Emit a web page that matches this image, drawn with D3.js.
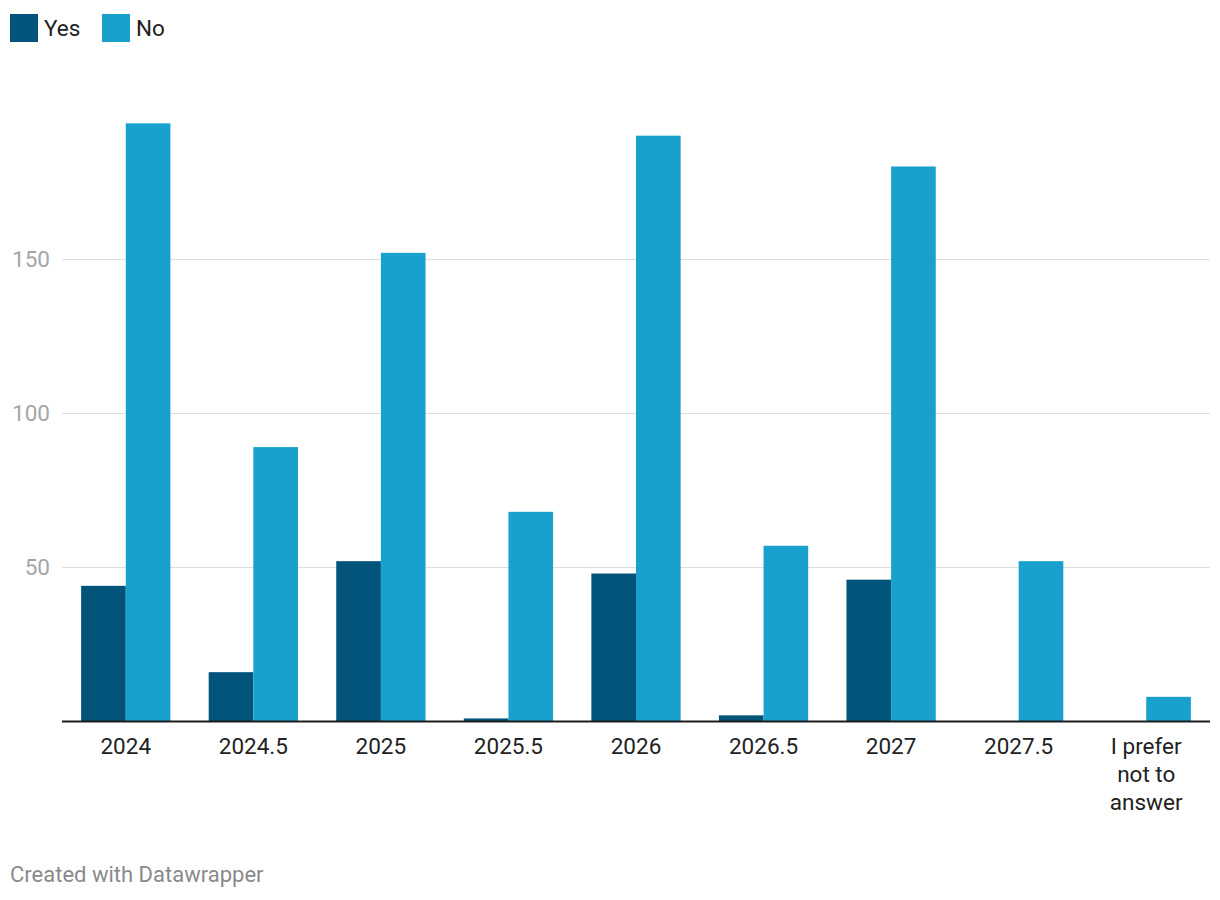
<!DOCTYPE html>
<html lang="en">
<head>
  <meta charset="UTF-8">
  <title>Yes / No by year</title>
  <script src="https://d3js.org/d3.v7.min.js"></script>
  <style>
    body {
      margin: 0;
      background: #fff;
      font-family: Roboto, Arial, sans-serif;
    }
  </style>
</head>
<body>
  <div id="chart"></div>

  <script>
    // values
    const categories = ["2024", "2024.5", "2025", "2025.5", "2026", "2026.5", "2027", "2027.5", "I prefer not to answer"];
    const yesValues = [44, 16, 52, 1, 48, 2, 46, 0, 0];
    const noValues = [194, 89, 152, 68, 190, 57, 180, 52, 8];
    const seriesNames = ["Yes", "No"];
    const yTicks = [50, 100, 150];

    const colors = { Yes: "#02547b", No: "#18a1cd" };
    const width = 1220, height = 900;
    const plotLeft = 62, plotRight = 1210, plotBottom = 721.5;

    const rows = categories.map((c, i) => ({ cat: c, Yes: yesValues[i], No: noValues[i] }));

    const svg = d3.select("#chart").append("svg")
      .attr("width", width)
      .attr("height", height);

    const x = d3.scaleBand()
      .domain(categories)
      .range([plotLeft, plotRight])
      .paddingInner(0.3)
      .paddingOuter(0.15);

    const xSub = d3.scaleBand()
      .domain(seriesNames)
      .range([0, x.bandwidth()]);

    const y = d3.scaleLinear()
      .domain([0, 150])
      .range([plotBottom, plotBottom - 462.5]);

    // gridlines + y labels
    const grid = svg.append("g");
    grid.selectAll("line")
      .data(yTicks)
      .enter()
      .append("line")
      .attr("x1", plotLeft)
      .attr("x2", plotRight)
      .attr("y1", d => Math.round(y(d)) + 0.5)
      .attr("y2", d => Math.round(y(d)) + 0.5)
      .attr("stroke", "#dedede")
      .attr("stroke-width", 1);
    grid.selectAll("text")
      .data(yTicks)
      .enter()
      .append("text")
      .attr("x", 50)
      .attr("y", d => y(d))
      .attr("dy", "0.35em")
      .attr("text-anchor", "end")
      .style("font-size", "22.5px")
      .style("fill", "#a6a6a6")
      .text(d => d);

    // bars
    const groups = svg.append("g").selectAll("g")
      .data(rows)
      .enter()
      .append("g")
      .attr("transform", d => `translate(${x(d.cat)},0)`);

    groups.selectAll("rect")
      .data(d => seriesNames.map(k => ({ key: k, value: d[k] })))
      .enter()
      .append("rect")
      .attr("x", d => xSub(d.key))
      .attr("width", xSub.bandwidth())
      .attr("y", d => y(d.value))
      .attr("height", d => y(0) - y(d.value))
      .attr("fill", d => colors[d.key]);

    // baseline
    svg.append("line")
      .attr("x1", plotLeft)
      .attr("x2", plotRight)
      .attr("y1", plotBottom)
      .attr("y2", plotBottom)
      .attr("stroke", "#1d1d1d")
      .attr("stroke-width", 2);

    // x labels, wrapped like the original
    const wrapWords = { "I prefer not to answer": ["I prefer", "not to", "answer"] };
    const xl = svg.append("g").selectAll("text")
      .data(categories)
      .enter()
      .append("text")
      .attr("x", d => x(d) + x.bandwidth() / 2)
      .attr("y", 754)
      .attr("text-anchor", "middle")
      .style("font-size", "22.5px")
      .style("fill", "#222");
    xl.each(function(d) {
      const lines = wrapWords[d] || [d];
      const t = d3.select(this);
      lines.forEach((l, i) => {
        t.append("tspan")
          .attr("x", x(d) + x.bandwidth() / 2)
          .attr("dy", i === 0 ? 0 : 28)
          .text(l);
      });
    });

    // legend
    const legendX = [10, 102];
    const legend = svg.append("g").selectAll("g")
      .data(seriesNames)
      .enter()
      .append("g")
      .attr("transform", (d, i) => `translate(${legendX[i]},14)`);
    legend.append("rect")
      .attr("width", 28)
      .attr("height", 28)
      .attr("fill", d => colors[d]);
    legend.append("text")
      .attr("x", 34)
      .attr("y", 14)
      .attr("dy", "0.35em")
      .style("font-size", "22.5px")
      .style("fill", "#222")
      .text(d => d);

    // footer
    svg.append("text")
      .attr("x", 10)
      .attr("y", 882)
      .style("font-size", "22px")
      .style("fill", "#8a8a8a")
      .text("Created with Datawrapper");
  </script>
</body>
</html>
